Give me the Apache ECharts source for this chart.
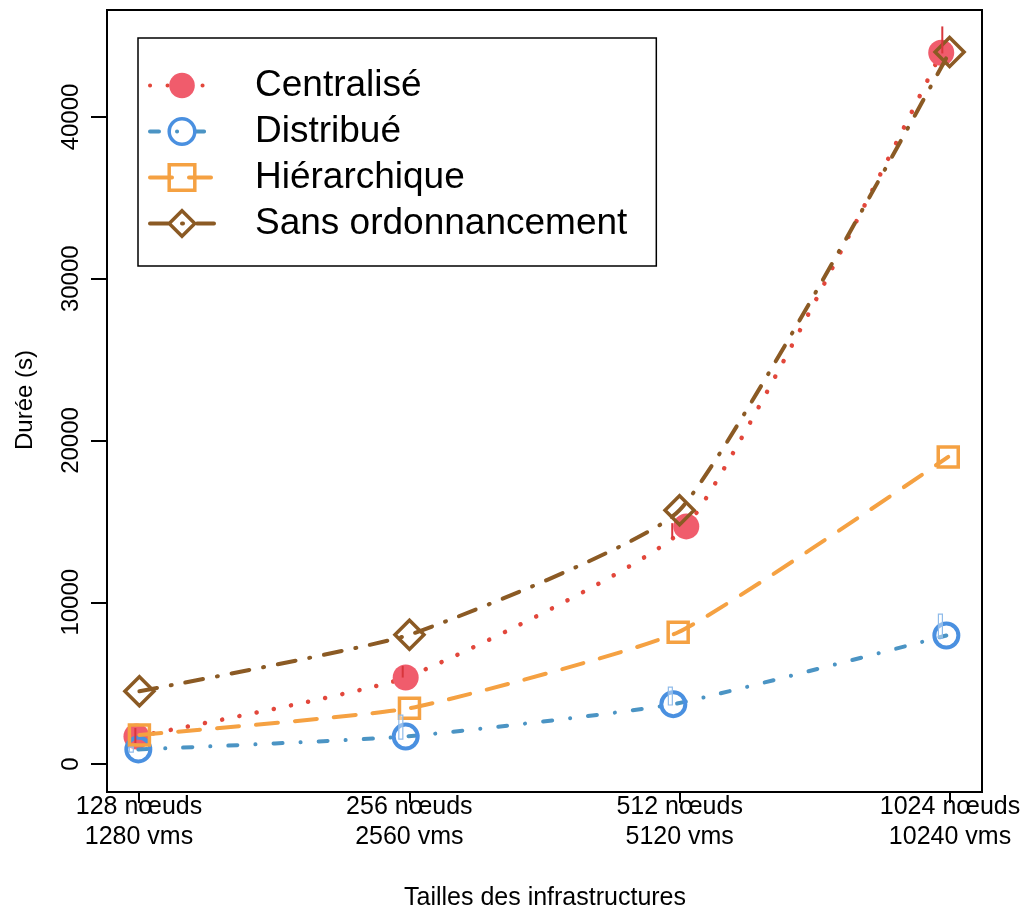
<!DOCTYPE html>
<html><head><meta charset="utf-8">
<script src="https://cdn.jsdelivr.net/npm/echarts@6/dist/echarts.min.js"></script>
<style>html,body{margin:0;padding:0;background:#fff}#c{width:1028px;height:912px}</style>
</head><body><div id="c"></div>
<script>
// ---- data ----
const nodeLabels = ['128 nœuds', '256 nœuds', '512 nœuds', '1024 nœuds'];
const vmLabels = ['1280 vms', '2560 vms', '5120 vms', '10240 vms'];
const seriesNames = ['Centralisé', 'Distribué', 'Hiérarchique', 'Sans ordonnancement'];
const yTicks = [0, 10000, 20000, 30000, 40000];

const centralise = [1700, 5350, 14700, 44000];
const distribue = [900, 1700, 3700, 7950];
const hierarchique = [1800, 3450, 8150, 19000];
const sansOrd = [4500, 8000, 15700, 44050];

// small horizontal dodge of the points (in category units)
const dodgeCentralise = [-0.011, -0.014, 0.025, -0.031];
const dodgeDistribue = [-0.004, -0.014, -0.023, -0.012];
const dodgeHierarchique = [0, 0, -0.005, -0.005];
const dodgeSansOrd = [0, 0, 0, 0];

// error bars
const errLowCentralise = [1300, 5350, 13970, 43960];
const errHighCentralise = [2230, 6060, 14900, 45630];
const errDodgeCentralise = [-0.015, -0.025, -0.027, -0.027];
const errLowDistribue = [740, 1546, 3650, 7790];
const errHighDistribue = [1050, 3030, 4760, 9270];
const errDodgeDistribue = [-0.03, -0.032, -0.034, -0.034];

const FONT = '"Liberation Sans", Arial, Helvetica, sans-serif';

function pts(vals, dodge) { return vals.map((v, i) => [i + 1 + dodge[i], v]); }
function errs(lo, hi, dodge) { return lo.map((v, i) => [i + 1 + dodge[i], v, hi[i]]); }

const chart = echarts.init(document.getElementById('c'), null, {renderer: 'canvas'});

const RED_LINE = '#E2473B', RED_PT = '#F05C6C';
const BLUE_LINE = '#4B94C4', BLUE_PT = '#4A90E0';
const ORANGE = '#F5A142';
const BROWN = '#8B5A24';
const SMOOTH = 0.15;

const option = {
  animation: false,
  backgroundColor: '#fff',
  grid: [
    {left: 107, right: 46, top: 10, bottom: 120, show: true, borderColor: '#000', borderWidth: 2, backgroundColor: 'transparent'},
    {left: 107, right: 46, top: 117, bottom: 148},
    {left: 139, right: 78, top: 10, bottom: 120}
  ],
  xAxis: [
    {gridIndex: 0, type: 'value', min: 0.88, max: 4.12, show: false},
    {gridIndex: 1, type: 'value', min: 0, max: 1, show: false},
    {gridIndex: 2, type: 'value', min: 1, max: 4, interval: 1,
      axisLine: {show: false}, splitLine: {show: false},
      axisTick: {show: true, length: 11, lineStyle: {color: '#000', width: 2}},
      axisLabel: {margin: 0, fontSize: 25, lineHeight: 30, color: '#000', fontFamily: FONT,
        formatter: v => nodeLabels[v - 1] + '\n' + vmLabels[v - 1]}}
  ],
  yAxis: [
    {gridIndex: 0, type: 'value', min: -1731, max: 46646, show: false},
    {gridIndex: 1, type: 'value', min: yTicks[0], max: yTicks[yTicks.length - 1], interval: yTicks[1] - yTicks[0],
      axisLine: {show: false}, splitLine: {show: false},
      axisTick: {show: true, length: 16, lineStyle: {color: '#000', width: 2}},
      axisLabel: {rotate: 90, margin: 24, fontSize: 24, color: '#000', fontFamily: FONT,
        formatter: v => String(v)}},
    {gridIndex: 2, type: 'value', min: 0, max: 1, show: false}
  ],
  legend: {
    data: seriesNames,
    orient: 'vertical',
    left: 138, top: 38,
    itemWidth: 64, itemHeight: 32, itemGap: 9,
    padding: [29, 29, 24, 10],
    borderColor: '#000', borderWidth: 1.5,
    selectedMode: false,
    lineStyle: {width: 4},
    itemStyle: {borderWidth: 3.5},
    textStyle: {fontSize: 37, color: '#000', fontFamily: FONT, padding: [0, 0, 0, 36]}
  },
  graphic: [
    {type: 'text', x: 25, y: 400, rotation: Math.PI / 2,
      style: {text: 'Durée (s)', font: '24px ' + FONT, fill: '#000', align: 'center', verticalAlign: 'middle'}},
    {type: 'text', x: 545, y: 898,
      style: {text: 'Tailles des infrastructures', font: '25px ' + FONT, fill: '#000', align: 'center', verticalAlign: 'middle'}}
  ],
  series: [
    {name: seriesNames[0], type: 'line', xAxisIndex: 0, yAxisIndex: 0, data: pts(centralise, dodgeCentralise),
      smooth: SMOOTH, symbol: 'circle', symbolSize: 26, z: 2,
      lineStyle: {color: RED_LINE, width: 4.5, type: [0.1, 17.4], cap: 'round'},
      itemStyle: {color: RED_PT, borderWidth: 0}},
    {name: seriesNames[1], type: 'line', xAxisIndex: 0, yAxisIndex: 0, data: pts(distribue, dodgeDistribue),
      smooth: SMOOTH, symbol: 'circle', symbolSize: 24, z: 3,
      lineStyle: {color: BLUE_LINE, width: 4, type: [9, 18, 0.1, 18], cap: 'round'},
      itemStyle: {color: 'rgba(255,255,255,0)', borderColor: BLUE_PT, borderWidth: 4}},
    {name: seriesNames[2], type: 'line', xAxisIndex: 0, yAxisIndex: 0, data: pts(hierarchique, dodgeHierarchique),
      smooth: SMOOTH, symbol: 'rect', symbolSize: 20, z: 4,
      lineStyle: {color: ORANGE, width: 4, type: [22, 17], cap: 'round'},
      itemStyle: {color: 'rgba(255,255,255,0)', borderColor: ORANGE, borderWidth: 3.5}},
    {name: seriesNames[3], type: 'line', xAxisIndex: 0, yAxisIndex: 0, data: pts(sansOrd, dodgeSansOrd),
      smooth: SMOOTH, symbol: 'diamond', symbolSize: 29, z: 5,
      lineStyle: {color: BROWN, width: 4, type: [18, 14, 1, 14], cap: 'round'},
      itemStyle: {color: 'rgba(255,255,255,0)', borderColor: BROWN, borderWidth: 3.5}},
    {name: 'errC', type: 'custom', xAxisIndex: 0, yAxisIndex: 0, z: 6,
      data: errs(errLowCentralise, errHighCentralise, errDodgeCentralise),
      encode: {x: 0, y: [1, 2]},
      renderItem: (params, api) => {
        const a = api.coord([api.value(0), api.value(1)]);
        const b = api.coord([api.value(0), api.value(2)]);
        return {type: 'line', shape: {x1: a[0], y1: a[1], x2: b[0], y2: b[1]}, style: {stroke: '#D8363C', lineWidth: 2}};
      }},
    {name: 'errD', type: 'custom', xAxisIndex: 0, yAxisIndex: 0, z: 6,
      data: errs(errLowDistribue, errHighDistribue, errDodgeDistribue),
      encode: {x: 0, y: [1, 2]},
      renderItem: (params, api) => {
        const a = api.coord([api.value(0), api.value(1)]);
        const b = api.coord([api.value(0), api.value(2)]);
        return {type: 'rect', shape: {x: a[0] - 2, y: b[1], width: 4, height: a[1] - b[1]},
          style: {fill: 'rgba(255,255,255,0.4)', stroke: '#8FBBEA', lineWidth: 1.2}};
      }}
  ]
};
chart.setOption(option);
</script>
</body></html>
